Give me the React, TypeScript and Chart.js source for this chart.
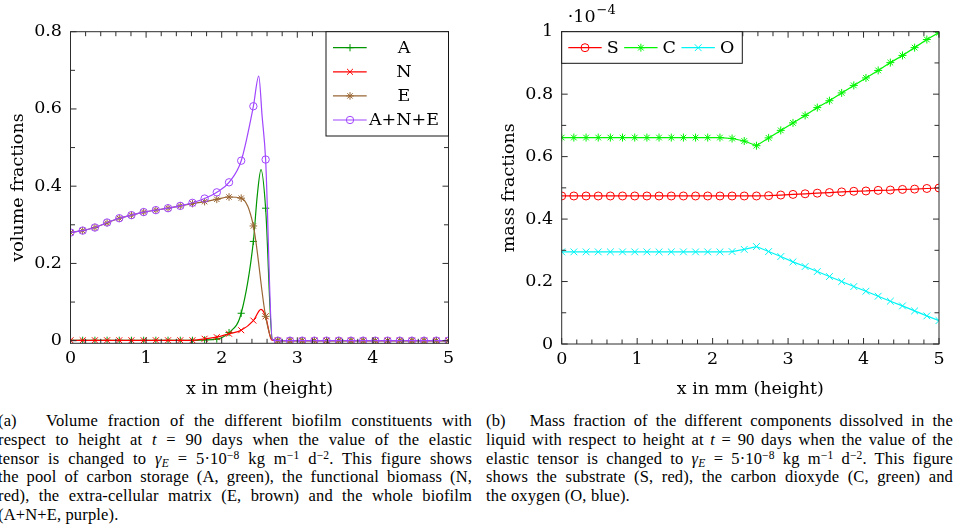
import React, { useEffect, useRef } from 'react';
import { Chart, registerables } from 'chart.js';
Chart.register(...registerables);

// ---------- data ----------
const X_MARKERS = [0, 0.161, 0.323, 0.484, 0.645, 0.806, 0.968, 1.129, 1.29, 1.452, 1.613, 1.774, 1.935, 2.097, 2.258, 2.419, 2.581, 2.742, 2.903, 3.065, 3.226, 3.387, 3.548, 3.71, 3.871, 4.032, 4.194, 4.355, 4.516, 4.677, 4.839, 5];

// (a) volume fractions, values at marker positions
const A_VALUES = [0.001, 0.001, 0.001, 0.001, 0.001, 0.001, 0.001, 0.001, 0.001, 0.001, 0.001, 0.002, 0.004, 0.021, 0.071, 0.257, 0.343, 0, 0, 0, 0, 0, 0, 0, 0, 0, 0, 0, 0, 0, 0, 0];
const N_VALUES = [0.001, 0.001, 0.001, 0.001, 0.001, 0.001, 0.001, 0.001, 0.001, 0.001, 0.001, 0.005, 0.009, 0.018, 0.027, 0.052, 0.063, 0, 0, 0, 0, 0, 0, 0, 0, 0, 0, 0, 0, 0, 0, 0];
const E_VALUES = [0.28, 0.285, 0.293, 0.305, 0.317, 0.325, 0.333, 0.338, 0.343, 0.349, 0.355, 0.36, 0.366, 0.372, 0.369, 0.297, 0.063, 0, 0, 0, 0, 0, 0, 0, 0, 0, 0, 0, 0, 0, 0, 0];
const ANE_VALUES = [0.28, 0.285, 0.293, 0.306, 0.317, 0.325, 0.333, 0.338, 0.343, 0.349, 0.357, 0.368, 0.384, 0.41, 0.466, 0.607, 0.469, 0, 0, 0, 0, 0, 0, 0, 0, 0, 0, 0, 0, 0, 0, 0];
// extra (unmarked) points
const A_EXTRA: [number, number][] = [[2.47, 0.375], [2.52, 0.443], [2.67, 0.003]];
const N_EXTRA: [number, number][] = [[2.52, 0.081], [2.66, 0.002]];
const E_EXTRA: [number, number][] = [[2.67, 0.003]];
const ANE_EXTRA: [number, number][] = [[2.49, 0.685], [2.535, 0.58], [2.67, 0.003]];

// (b) mass fractions (in units of 1e-4)
const S_VALUES = [0.474, 0.474, 0.474, 0.474, 0.474, 0.474, 0.474, 0.474, 0.474, 0.474, 0.474, 0.474, 0.474, 0.474, 0.474, 0.474, 0.474, 0.475, 0.477, 0.479, 0.481, 0.483, 0.485, 0.487, 0.489, 0.49, 0.492, 0.493, 0.495, 0.496, 0.498, 0.4995];
const C_VALUES = [0.661, 0.661, 0.661, 0.661, 0.661, 0.661, 0.661, 0.661, 0.661, 0.661, 0.661, 0.661, 0.661, 0.661, 0.658, 0.65, 0.635, 0.66, 0.684, 0.708, 0.732, 0.757, 0.779, 0.804, 0.828, 0.852, 0.876, 0.901, 0.924, 0.949, 0.975, 0.997];
const O_VALUES = [0.295, 0.295, 0.295, 0.295, 0.295, 0.295, 0.295, 0.295, 0.295, 0.295, 0.295, 0.295, 0.295, 0.295, 0.296, 0.303, 0.312, 0.296, 0.28, 0.263, 0.248, 0.232, 0.216, 0.2, 0.184, 0.169, 0.153, 0.137, 0.122, 0.106, 0.09, 0.075];

const X_TICKS = [0, 1, 2, 3, 4, 5];
const X_LABELS = ['0', '1', '2', '3', '4', '5'];
const X_MINOR = [0, 0.2, 0.4, 0.6, 0.8, 1, 1.2, 1.4, 1.6, 1.8, 2, 2.2, 2.4, 2.6, 2.8, 3, 3.2, 3.4, 3.6, 3.8, 4, 4.2, 4.4, 4.6, 4.8, 5];
const LEFT_Y_TICKS = [0, 0.2, 0.4, 0.6, 0.8];
const LEFT_Y_LABELS = ['0', '0.2', '0.4', '0.6', '0.8'];
const LEFT_Y_MINOR = [0, 0.1, 0.2, 0.3, 0.4, 0.5, 0.6, 0.7, 0.8];
const RIGHT_Y_TICKS = [0, 0.2, 0.4, 0.6, 0.8, 1];
const RIGHT_Y_LABELS = ['0', '0.2', '0.4', '0.6', '0.8', '1'];
const RIGHT_Y_MINOR = [0, 0.1, 0.2, 0.3, 0.4, 0.5, 0.6, 0.7, 0.8, 0.9, 1];

// ---------- styles ----------
const SERIF = "'DejaVu Serif', serif";
const FS = 17.5;
const COL_A = 'rgb(0,150,0)';
const COL_N = 'rgb(255,0,0)';
const COL_E = 'rgb(153,102,51)';
const COL_ANE = 'rgb(160,70,255)';
const COL_S = 'rgb(255,0,0)';
const COL_C = 'rgb(0,245,0)';
const COL_O = 'rgb(0,245,245)';
const AXIS_COL = 'rgb(45,45,45)';

type Pt = { x: number; y: number; m: boolean };
function buildSeries(vals: number[], extra: [number, number][]): Pt[] {
  const pts: Pt[] = X_MARKERS.map((x, i) => ({ x, y: vals[i], m: true }));
  extra.forEach(([x, y]) => pts.push({ x, y, m: false }));
  return pts.sort((a, b) => a.x - b.x);
}

function drawMarker(ctx: CanvasRenderingContext2D, style: string, x: number, y: number, r: number, color: string) {
  ctx.save();
  ctx.strokeStyle = color;
  ctx.lineWidth = 1;
  ctx.beginPath();
  const d = r * 0.7071;
  if (style === 'circle') {
    ctx.arc(x, y, r, 0, Math.PI * 2);
  } else {
    if (style === 'cross' || style === 'star') {
      ctx.moveTo(x - r, y); ctx.lineTo(x + r, y);
      ctx.moveTo(x, y - r); ctx.lineTo(x, y + r);
    }
    if (style === 'crossRot' || style === 'star') {
      ctx.moveTo(x - d, y - d); ctx.lineTo(x + d, y + d);
      ctx.moveTo(x - d, y + d); ctx.lineTo(x + d, y - d);
    }
  }
  ctx.stroke();
  ctx.restore();
}

type LegendItem = { label: string; color: string; style: string; r: number };

const framePlugin = {
  id: 'frame',
  afterDatasetsDraw(chart: any, _args: any, opts: any) {
    const ctx: CanvasRenderingContext2D = chart.ctx;
    const { left, right, top, bottom } = chart.chartArea;
    const xs = chart.scales.x;
    const ys = chart.scales.y;
    ctx.save();
    ctx.strokeStyle = AXIS_COL;
    ctx.lineWidth = 1;
    ctx.beginPath();
    opts.xMinor.forEach((v: number) => {
      const p = xs.getPixelForValue(v);
      const len = opts.xMajor.includes(v) ? 6 : 4.5;
      ctx.moveTo(p, bottom); ctx.lineTo(p, bottom - len);
      ctx.moveTo(p, top); ctx.lineTo(p, top + len);
    });
    opts.yMinor.forEach((v: number) => {
      const p = ys.getPixelForValue(v);
      const len = opts.yMajor.includes(v) ? 6 : 4.5;
      ctx.moveTo(left, p); ctx.lineTo(left + len, p);
      ctx.moveTo(right, p); ctx.lineTo(right - len, p);
    });
    ctx.stroke();
    ctx.strokeRect(left, top, right - left, bottom - top);

    // legend
    const lg = opts.legend;
    const items: LegendItem[] = lg.items;
    ctx.font = `${FS}px ${SERIF}`;
    ctx.textBaseline = 'middle';
    const bx = lg.alignRight ? right - lg.width : left;
    const by = top;
    ctx.fillStyle = '#fff';
    ctx.fillRect(bx, by, lg.width, lg.height);
    ctx.strokeStyle = 'rgb(20,20,20)';
    ctx.strokeRect(bx, by, lg.width, lg.height);
    if (lg.vertical) {
      items.forEach((it, i) => {
        const yy = by + 16 + i * 24.1;
        ctx.strokeStyle = it.color;
        ctx.lineWidth = 1.2;
        ctx.beginPath(); ctx.moveTo(bx + 7, yy); ctx.lineTo(bx + 40.7, yy); ctx.stroke();
        drawMarker(ctx, it.style, bx + 24, yy, it.r, it.color);
        ctx.fillStyle = '#000';
        ctx.textAlign = 'center';
        ctx.fillText(it.label, bx + 78, yy + 0.5);
      });
    } else {
      let x0 = bx + 6.6;
      const yy = by + 16;
      items.forEach((it) => {
        ctx.strokeStyle = it.color;
        ctx.lineWidth = 1.2;
        ctx.beginPath(); ctx.moveTo(x0, yy); ctx.lineTo(x0 + 33.4, yy); ctx.stroke();
        drawMarker(ctx, it.style, x0 + 16.7, yy, it.r, it.color);
        ctx.fillStyle = '#000';
        ctx.textAlign = 'left';
        ctx.fillText(it.label, x0 + 38.4, yy + 0.5);
        x0 = x0 + 38.4 + ctx.measureText(it.label).width + 5.5;
      });
    }
    // exponent label
    if (opts.exponent) {
      ctx.fillStyle = '#000';
      ctx.textAlign = 'left';
      ctx.textBaseline = 'alphabetic';
      ctx.font = `${FS}px ${SERIF}`;
      const base = '\u00B710';
      ctx.fillText(base, left + 6, 22);
      const w = ctx.measureText(base).width;
      ctx.font = `${13}px ${SERIF}`;
      ctx.fillText('\u22124', left + 6 + w + 1, 14);
    }
    ctx.restore();
  },
};

function makeDataset(label: string, data: any[], color: string, style: string, r: number, order: number, smooth: boolean) {
  return {
    label,
    data,
    borderColor: color,
    backgroundColor: 'rgba(0,0,0,0)',
    borderWidth: 1.2,
    pointStyle: style,
    pointRadius: (c: any) => (c.raw && c.raw.m ? r : 0),
    pointHoverRadius: 0,
    pointBorderColor: color,
    pointBackgroundColor: 'rgba(0,0,0,0)',
    pointBorderWidth: 1,
    cubicInterpolationMode: smooth ? 'monotone' : 'default',
    tension: 0,
    order,
    fill: false,
  };
}

function axisOptions(cfg: {
  yMin: number; yMax: number; yTicks: number[]; yLabels: string[]; yTitle: string; yWidth: number; yTitlePad: number; xHeight: number;
}) {
  return {
    x: {
      type: 'linear',
      min: 0,
      max: 5,
      afterBuildTicks: (s: any) => { s.ticks = X_TICKS.map((v) => ({ value: v })); },
      afterFit: (s: any) => { s.height = cfg.xHeight; },
      grid: { display: false, drawTicks: false },
      border: { display: false },
      ticks: {
        color: '#000',
        font: { family: SERIF, size: FS },
        padding: 5,
        autoSkip: false,
        maxRotation: 0,
        callback: (_v: any, i: number) => X_LABELS[i],
      },
      title: {
        display: true,
        text: 'x in mm (height)',
        color: '#000',
        font: { family: SERIF, size: FS },
        padding: { top: 0, bottom: 0.5 },
      },
    },
    y: {
      type: 'linear',
      min: cfg.yMin,
      max: cfg.yMax,
      afterBuildTicks: (s: any) => { s.ticks = cfg.yTicks.map((v) => ({ value: v })); },
      afterFit: (s: any) => { s.width = cfg.yWidth; },
      grid: { display: false, drawTicks: false },
      border: { display: false },
      ticks: {
        color: '#000',
        font: { family: SERIF, size: FS },
        padding: 8.5,
        autoSkip: false,
        callback: (_v: any, i: number) => cfg.yLabels[i],
      },
      title: {
        display: true,
        text: cfg.yTitle,
        color: '#000',
        font: { family: SERIF, size: FS },
        padding: { top: cfg.yTitlePad, bottom: 0 },
      },
    },
  };
}

function LeftChart() {
  const ref = useRef<HTMLCanvasElement>(null);
  useEffect(() => {
    const chart = new Chart(ref.current as HTMLCanvasElement, {
      type: 'line',
      data: {
        datasets: [
          makeDataset('A', buildSeries(A_VALUES, A_EXTRA), COL_A, 'cross', 3.6, 4, true),
          makeDataset('N', buildSeries(N_VALUES, N_EXTRA), COL_N, 'crossRot', 4.2, 3, true),
          makeDataset('E', buildSeries(E_VALUES, E_EXTRA), COL_E, 'star', 3.8, 2, true),
          makeDataset('A+N+E', buildSeries(ANE_VALUES, ANE_EXTRA), COL_ANE, 'circle', 3.7, 1, true),
        ] as any,
      },
      options: {
        animation: false,
        responsive: false,
        devicePixelRatio: 1,
        events: [],
        layout: { padding: { top: 31.7, right: 31.5, bottom: 0, left: 0 } },
        scales: axisOptions({
          yMin: -0.0068, yMax: 0.8, yTicks: LEFT_Y_TICKS, yLabels: LEFT_Y_LABELS,
          yTitle: 'volume fractions', yWidth: 70.5, yTitlePad: 7.5, xHeight: 56.7,
        }) as any,
        plugins: {
          legend: { display: false },
          tooltip: { enabled: false },
          frame: {
            xMinor: X_MINOR, xMajor: X_TICKS, yMinor: LEFT_Y_MINOR, yMajor: LEFT_Y_TICKS,
            exponent: false,
            legend: {
              vertical: true, alignRight: true, width: 122.5, height: 104.3,
              items: [
                { label: 'A', color: COL_A, style: 'cross', r: 3.6 },
                { label: 'N', color: COL_N, style: 'crossRot', r: 4.2 },
                { label: 'E', color: COL_E, style: 'star', r: 3.8 },
                { label: 'A+N+E', color: COL_ANE, style: 'circle', r: 3.7 },
              ],
            },
          },
        } as any,
      },
      plugins: [framePlugin as any],
    });
    return () => chart.destroy();
  }, []);
  return <canvas ref={ref} width={480} height={400} style={{ position: 'absolute', left: 0, top: 0, width: 480, height: 400 }} />;
}

function RightChart() {
  const ref = useRef<HTMLCanvasElement>(null);
  useEffect(() => {
    const pts = (vals: number[]) => buildSeries(vals, []);
    const chart = new Chart(ref.current as HTMLCanvasElement, {
      type: 'line',
      data: {
        datasets: [
          makeDataset('S', pts(S_VALUES), COL_S, 'circle', 4, 3, false),
          makeDataset('C', pts(C_VALUES), COL_C, 'star', 4, 2, false),
          makeDataset('O', pts(O_VALUES), COL_O, 'crossRot', 4.8, 1, false),
        ] as any,
      },
      options: {
        animation: false,
        responsive: false,
        devicePixelRatio: 1,
        events: [],
        layout: { padding: { top: 31.7, right: 21, bottom: 0, left: 0 } },
        scales: axisOptions({
          yMin: 0, yMax: 1, yTicks: RIGHT_Y_TICKS, yLabels: RIGHT_Y_LABELS,
          yTitle: 'mass fractions', yWidth: 81.7, yTitlePad: 18.5, xHeight: 56,
        }) as any,
        plugins: {
          legend: { display: false },
          tooltip: { enabled: false },
          frame: {
            xMinor: X_MINOR, xMajor: X_TICKS, yMinor: RIGHT_Y_MINOR, yMajor: RIGHT_Y_TICKS,
            exponent: true,
            legend: {
              vertical: false, alignRight: false, width: 180.6, height: 31.6,
              items: [
                { label: 'S', color: COL_S, style: 'circle', r: 4 },
                { label: 'C', color: COL_C, style: 'star', r: 4 },
                { label: 'O', color: COL_O, style: 'crossRot', r: 4.8 },
              ],
            },
          },
        } as any,
      },
      plugins: [framePlugin as any],
    });
    return () => chart.destroy();
  }, []);
  return <canvas ref={ref} width={480} height={400} style={{ position: 'absolute', left: 480, top: 0, width: 480, height: 400 }} />;
}

const capLine: React.CSSProperties = {
  height: 18.7,
  lineHeight: '18.7px',
  textAlign: 'justify',
  textAlignLast: 'justify' as any,
  whiteSpace: 'normal',
};
const lastLine: React.CSSProperties = { ...capLine, textAlign: 'left', textAlignLast: 'left' as any };
const sup: React.CSSProperties = { fontSize: '0.7em', verticalAlign: '0.45em', lineHeight: 0 };
const sub: React.CSSProperties = { fontSize: '0.7em', verticalAlign: '-0.25em', lineHeight: 0 };

function Gamma() {
  return (
    <span><i>γ</i><sub style={sub}><i>E</i></sub> = 5·10<sup style={sup}>−8</sup> kg m<sup style={sup}>−1</sup> d<sup style={sup}>−2</sup></span>
  );
}

function Captions() {
  const base: React.CSSProperties = {
    position: 'absolute',
    top: 412.3,
    fontFamily: "'Liberation Serif', serif",
    fontSize: 16.5,
    letterSpacing: '0.15px',
    color: '#000',
  };
  return (
    <>
      <div style={{ ...base, left: -2, width: 474 }}>
        <div style={capLine}>(a)&nbsp;&nbsp; Volume fraction of the different biofilm constituents with</div>
        <div style={capLine}>respect to height at <i>t</i> = 90 days when the value of the elastic</div>
        <div style={capLine}>tensor is changed to <Gamma />. This figure shows</div>
        <div style={capLine}>the pool of carbon storage (A, green), the functional biomass (N,</div>
        <div style={capLine}>red), the extra-cellular matrix (E, brown) and the whole biofilm</div>
        <div style={lastLine}>(A+N+E, purple).</div>
      </div>
      <div style={{ ...base, left: 486, width: 467 }}>
        <div style={capLine}>(b)&nbsp;&nbsp; Mass fraction of the different components dissolved in the</div>
        <div style={capLine}>liquid with respect to height at <i>t</i> = 90 days when the value of the</div>
        <div style={capLine}>elastic tensor is changed to <Gamma />. This figure</div>
        <div style={capLine}>shows the substrate (S, red), the carbon dioxyde (C, green) and</div>
        <div style={lastLine}>the oxygen (O, blue).</div>
      </div>
    </>
  );
}

export default function App() {
  return (
    <div style={{ position: 'absolute', left: 0, top: 0, width: 960, height: 530, background: '#fff', overflow: 'hidden' }}>
      <LeftChart />
      <RightChart />
      <Captions />
    </div>
  );
}
